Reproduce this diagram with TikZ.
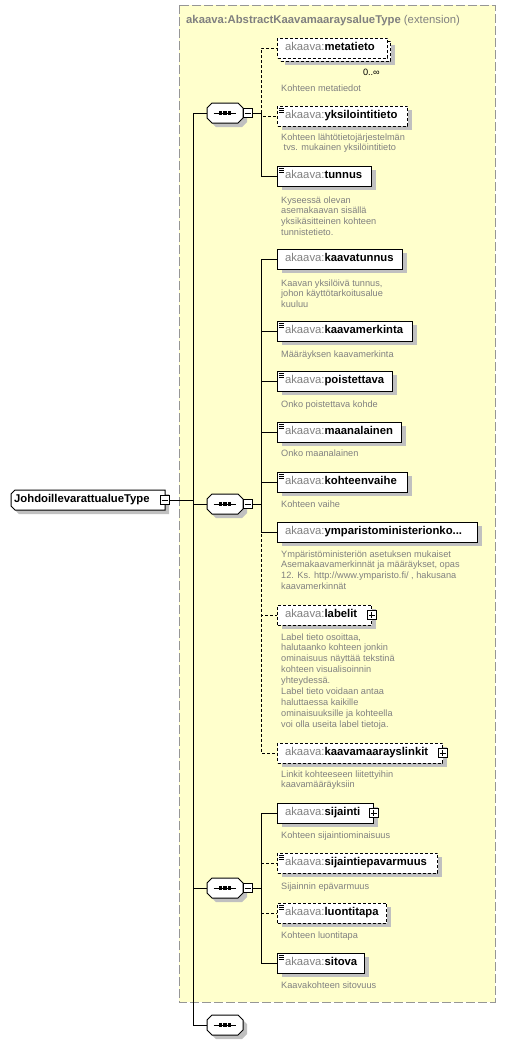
\documentclass[tikz,border=0pt]{standalone}
\usepackage{fontspec}
\setmainfont{Liberation Sans}
\usetikzlibrary{shadows,calc}
\definecolor{yel}{RGB}{255,255,204}
\definecolor{ybord}{RGB}{150,150,150}
\definecolor{pfx}{RGB}{128,128,128}
\definecolor{dsc}{RGB}{128,128,128}
\definecolor{shd}{RGB}{192,192,192}
\newcommand\nmfont{\fontsize{11.3}{13}\selectfont}
\newcommand\dsfont{\fontsize{9.2}{10.9}\selectfont}
\newcommand\ename[1]{\hspace*{7.5pt}\textcolor{pfx}{akaava:}\textbf{#1}}
\newcommand\dl[1]{\begin{tabular}[t]{@{}l@{}}#1\end{tabular}}
\tikzset{
  conn/.style={line width=1pt},
  opt/.style={line width=1pt, dash pattern=on 3pt off 2pt},
  el/.style={draw, line width=1pt, fill=white, anchor=west, minimum height=20pt,
    inner xsep=0pt, inner ysep=0pt, align=left, font=\nmfont, text height=8pt, text depth=2.5pt},
  eldash/.style={el, dash pattern=on 3pt off 2pt},
  shad/.style={drop shadow={shadow xshift=4pt, shadow yshift=-4pt, fill=shd, opacity=1}},
  desc/.style={anchor=base west, inner sep=0pt, font=\dsfont, text=dsc},
  pm/.style={draw, line width=1pt, fill=white, minimum size=9pt, inner sep=0pt},
  sq/.style={minimum width=36pt, minimum height=20pt, inner sep=0pt},
}
\newcommand\icon[1]{%
  \draw[line width=0.8pt] ($(#1.north west)+(2,2.5)$) -- ++(5,0);
  \draw[line width=0.8pt] ($(#1.north west)+(2,4.5)$) -- ++(5,0);
  \draw[line width=0.8pt] ($(#1.north west)+(2,6.5)$) -- ++(5,0);}
\newcommand\plusbox[2]{%
  \node[pm] (#1) at ($(#2.east)+(-0.5,0)$) {};
  \draw[line width=0.8pt] ($(#1.center)+(-3,0)$) -- ($(#1.center)+(3,0)$);
  \draw[line width=0.8pt] ($(#1.center)+(0,-3)$) -- ($(#1.center)+(0,3)$);}
\newcommand\minusbox[3]{%
  \node[pm] (#1) at (#2,#3) {};
  \draw[line width=0.8pt] ($(#1.center)+(-3,0)$) -- ($(#1.center)+(3,0)$);}
\newcommand\seqshape[3]{%
  \node[sq] (#1) at (#2,#3) {};
  \fill[shd] (#2+4,#3+4) ++(-18,-5) -- ++(5,-5) -- ++(26,0) -- ++(5,5) -- ++(0,10) -- ++(-5,5) -- ++(-26,0) -- ++(-5,-5) -- cycle;
  \draw[line width=1pt, fill=white] (#2,#3) ++(-18,-5) -- ++(5,-5) -- ++(26,0) -- ++(5,5) -- ++(0,10) -- ++(-5,5) -- ++(-26,0) -- ++(-5,-5) -- cycle;
  \draw[line width=1pt] (#2-11.5,#3) -- (#2+10.5,#3);
  \fill (#2-6,#3-1.6) rectangle ++(3.2,3.2);
  \fill (#2-1.6,#3-1.6) rectangle ++(3.2,3.2);
  \fill (#2+2.8,#3-1.6) rectangle ++(3.2,3.2);}
\begin{document}
\begin{tikzpicture}[x=1pt,y=-1pt]
\useasboundingbox (0,0) rectangle (507,1045);
% extension box
\draw[fill=yel, draw=ybord, line width=1pt, dash pattern=on 9pt off 3pt] (179,5) rectangle (495,1002);
\node[anchor=base west, inner sep=0pt, font=\nmfont, text=pfx] (title) at (186,23)
  {\textbf{akaava:AbstractKaavamaaraysalueType} (extension)};
% root
\fill[shd] (15,498) -- (19,494) -- (169,494) -- (169,514) -- (19,514) -- (15,510) -- cycle;
\draw[line width=1pt, fill=white] (11,494) -- (15,490) -- (165,490) -- (165,510) -- (15,510) -- (11,506) -- cycle;
\node[anchor=west, minimum width=154pt, minimum height=20pt, inner xsep=0pt, inner ysep=0pt,
  text width=154pt, align=left, font=\nmfont, text height=8pt, text depth=2.5pt] (root) at (11,500)
  {\hspace*{3pt}\textbf{JohdoillevarattualueType}};
\minusbox{rootm}{164.5}{500}
% sequences
\seqshape{s1}{225}{113}
\minusbox{s1m}{247.5}{113}
\seqshape{s2}{225}{504}
\minusbox{s2m}{247.5}{504}
\seqshape{s3}{225}{888}
\minusbox{s3m}{247.5}{888}
\seqshape{s4}{225}{1025}
% group 1
\node[eldash, shad, text width=110pt] (mtb) at (280,51) {};
\node[eldash, text width=110pt] (mt) at (277,48) {\ename{metatieto}};
\node[anchor=base east, inner sep=0pt, font=\dsfont] (mtc) at (380,75) {0..∞};
\node[desc] (dmt) at (281,91) {Kohteen metatiedot};
\node[eldash, shad, text width=130pt] (yk) at (277,116) {\ename{yksilointitieto}};
\icon{yk}
\node[desc] (dyk) at (281,140) {\dl{Kohteen lähtötietojärjestelmän\\\hspace*{2.5pt}tvs. mukainen yksilöintitieto}};
\node[el, shad, text width=94pt] (tu) at (277,176) {\ename{tunnus}};
\icon{tu}
\node[desc] (dtu) at (281,203) {\dl{Kyseessä olevan\\asemakaavan sisällä\\yksikäsitteinen kohteen\\tunnistetieto.}};
% group 2
\node[el, shad, text width=125pt] (kt) at (277,259) {\ename{kaavatunnus}};
\node[desc] (dkt) at (281,286) {\dl{Kaavan yksilöivä tunnus,\\johon käyttötarkoitusalue\\kuuluu}};
\node[el, shad, text width=135pt] (km) at (277,331) {\ename{kaavamerkinta}};
\icon{km}
\node[desc] (dkm) at (281,357) {Määräyksen kaavamerkinta};
\node[el, shad, text width=115pt] (po) at (277,381) {\ename{poistettava}};
\icon{po}
\node[desc] (dpo) at (281,407) {Onko poistettava kohde};
\node[el, shad, text width=124pt] (ma) at (277,432) {\ename{maanalainen}};
\icon{ma}
\node[desc] (dma) at (281,456) {Onko maanalainen};
\node[el, shad, text width=130pt] (kv) at (277,482) {\ename{kohteenvaihe}};
\icon{kv}
\node[desc] (dkv) at (281,507) {Kohteen vaihe};
\node[el, shad, text width=200pt] (ym) at (277,532) {\ename{ymparistoministerionko...}};
\node[desc] (dym) at (281,557) {\dl{Ympäristöministeriön asetuksen mukaiset\\Asemakaavamerkinnät ja määräykset, opas\\12. Ks. http://www.ymparisto.fi/ , hakusana\\kaavamerkinnät}};
\node[eldash, shad, text width=94pt] (la) at (277,615) {\ename{labelit}};
\plusbox{lap}{la}
\node[desc] (dla) at (281,640) {\dl{Label tieto osoittaa,\\halutaanko kohteen jonkin\\ominaisuus näyttää tekstinä\\kohteen visualisoinnin\\yhteydessä.\\Label tieto voidaan antaa\\haluttaessa kaikille\\ominaisuuksille ja kohteella\\voi olla useita label tietoja.}};
\node[eldash, shad, text width=165pt] (kl) at (277,753) {\ename{kaavamaarayslinkit}};
\plusbox{klp}{kl}
\node[desc] (dkl) at (281,777) {\dl{Linkit kohteeseen liitettyihin\\kaavamääräyksiin}};
% group 3
\node[el, shad, text width=96pt] (si) at (277,813) {\ename{sijainti}};
\plusbox{sip}{si}
\node[desc] (dsi) at (281,838) {Kohteen sijaintiominaisuus};
\node[eldash, shad, text width=160pt] (se) at (277,863) {\ename{sijaintiepavarmuus}};
\icon{se}
\node[desc] (dse) at (281,889) {Sijainnin epävarmuus};
\node[eldash, shad, text width=109pt] (lu) at (277,913) {\ename{luontitapa}};
\icon{lu}
\node[desc] (dlu) at (281,938) {Kohteen luontitapa};
\node[el, shad, text width=87pt] (st) at (277,963) {\ename{sitova}};
\icon{st}
\node[desc] (dst) at (281,988) {Kaavakohteen sitovuus};
% connectors
\coordinate (t1) at (193,113);
\coordinate (t4) at (193,1025);
\coordinate (g1) at (261,113);
\coordinate (g2) at (261,504);
\coordinate (g3) at (261,888);
\draw[conn] (rootm.east) -- (rootm.east -| t1);
\draw[conn] (t1) -- (t4);
\draw[conn] (t1) -- (s1.west);
\draw[conn] (s2.west -| t1) -- (s2.west);
\draw[conn] (s3.west -| t1) -- (s3.west);
\draw[conn] (t4) -- (s4.west);
\draw[conn] (s1m.east) -- (g1);
\draw[conn] (s2m.east) -- (g2);
\draw[conn] (s3m.east) -- (g3);
\draw[opt] (g1) |- (mt.west);
\draw[opt] (g1) |- (yk.west);
\draw[conn] (g1) |- (tu.west);
\draw[opt] (g2) |- (kl.west);
\draw[opt] (g2) |- (la.west);
\draw[conn] (g2) |- (kt.west);
\draw[conn] (g2) |- (km.west);
\draw[conn] (g2) |- (po.west);
\draw[conn] (g2) |- (ma.west);
\draw[conn] (g2) |- (kv.west);
\draw[conn] (g2) |- (ym.west);
\draw[opt] (g3) |- (se.west);
\draw[opt] (g3) |- (lu.west);
\draw[conn] (g3) |- (si.west);
\draw[conn] (g3) |- (st.west);
\end{tikzpicture}
\end{document}
